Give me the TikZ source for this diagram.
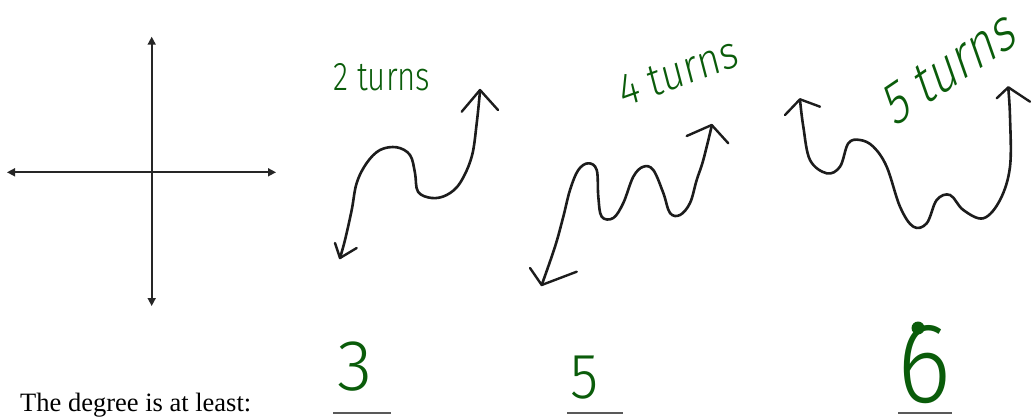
\documentclass[tikz,border=0pt]{standalone}
\usepackage{fontspec}
\setmainfont{Liberation Serif}
\newfontfamily\hand{Fira Sans Light}
\usetikzlibrary{arrows.meta}
\definecolor{pen}{RGB}{10,92,10}
\definecolor{ink}{RGB}{28,28,28}
\tikzset{
  curve/.style={ink, line width=2.6pt, line cap=round, line join=round},
  tipline/.style={ink, line width=2.4pt, line cap=round, line join=round},
  axis/.style={black!85, line width=1.6pt, {Triangle[length=8pt,width=8pt]}-{Triangle[length=8pt,width=8pt]}},
  hand/.style={text=pen, font=\hand, inner sep=0pt},
  blank/.style={black!65, line width=2pt}
}
\begin{document}
\begin{tikzpicture}[x=1pt,y=-1pt]
\useasboundingbox (0,0) rectangle (1032,419);
% axes
\coordinate (xl) at (7,172.3);
\coordinate (xr) at (276,172.3);
\coordinate (yt) at (151.7,36.7);
\coordinate (yb) at (151.7,306);
\draw[axis] (xl) -- (xr);
\draw[axis] (yt) -- (yb);
% curve 1
\draw[curve] plot[smooth, tension=0.6] coordinates {(340,258) (345,240) (351.7,210) (356.7,183) (366.7,163) (380,150) (396.7,147.3) (410,155) (415,173) (418,191.7) (431.7,198) (446.7,195) (460,183) (471.7,156.7) (476.7,123.3) (480,91)};
\draw[tipline] (461.7,111.7) -- (480,90) -- (498,110);
\draw[tipline] (335,243) -- (340,258) -- (356.7,248);
% curve 2
\draw[curve] plot[smooth, tension=0.6] coordinates {(541.7,285) (555,246.7) (563.3,216.7) (570,190) (578.3,170) (588.3,163.3) (596.7,170) (598.3,196.7) (601.7,216.7) (613.3,218) (623.3,203) (633.3,176.7) (643.3,166.7) (653.3,170) (663.3,193) (670,213) (680,215) (690,203) (696.7,180) (703.3,160) (711.7,126)};
\draw[tipline] (686.7,136) -- (711.7,125) -- (728.3,143.3);
\draw[tipline] (530,268) -- (541.7,285) -- (576.7,271.7);
% curve 3
\draw[curve] plot[smooth, tension=0.6] coordinates {(800,100) (803.3,126.7) (810,160) (826.7,173.3) (840,166.7) (848.3,143.3) (860,140) (873.3,146.7) (886.7,166.7) (900,206.7) (913.3,226.7) (926.7,223.3) (936.7,200) (950,195) (963.3,210) (983.3,218.3) (1000,200) (1010,166.7) (1010,116.7) (1008.3,88.5)};
\draw[tipline] (785,115) -- (800,99.3) -- (820,106.7);
\draw[tipline] (996.7,98.3) -- (1008.3,87.3) -- (1030,101.7);
% labels
\node[hand, font=\hand\fontsize{40}{40}\selectfont, xscale=0.78] (t2) at (382,77) {2 turns};
\node[hand, font=\hand\fontsize{46}{46}\selectfont, xscale=0.85, rotate=17] (t4) at (678,72) {4 turns};
\node[hand, font=\hand\fontsize{62}{62}\selectfont, xscale=0.72, rotate=26] (t5) at (950,67) {5 turns};
% bottom
\node[anchor=base west, inner sep=0pt, font=\fontsize{26.5}{26.5}\selectfont] (q) at (20,411) {The degree is at least:};
\draw[blank] (333,413) -- (391,413);
\draw[blank] (567,413) -- (623,413);
\draw[blank] (898,413) -- (952,413);
\node[hand, font=\hand\fontsize{72}{72}\selectfont, xscale=1.0] (d3) at (355,367) {3};
\node[hand, font=\hand\fontsize{64}{64}\selectfont, xscale=0.9] (d5) at (585,378) {5};
\node[hand, font=\hand\fontsize{114}{114}\selectfont, xscale=0.9] (d6) at (924,365) {6};
\fill[pen] (918,328) circle (6.5);
\end{tikzpicture}
\end{document}
